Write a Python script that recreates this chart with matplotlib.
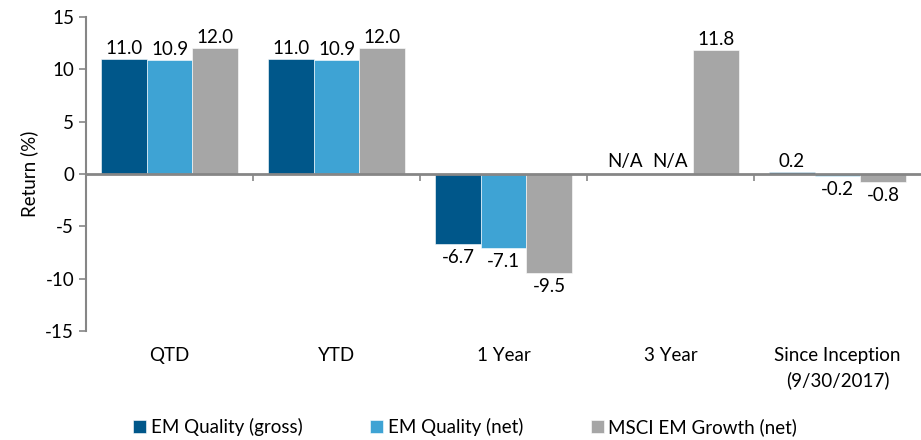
import numpy as np
import matplotlib.pyplot as plt
from matplotlib import transforms

plt.rcParams['font.family'] = ['Lato', 'DejaVu Sans']
plt.rcParams['axes.unicode_minus'] = False

# chart data
categories = ['QTD', 'YTD', '1 Year', '3 Year', 'Since Inception\n(9/30/2017)']
series_names = ['EM Quality (gross)', 'EM Quality (net)', 'MSCI EM Growth (net)']
gross = [11.0, 11.0, -6.7, np.nan, 0.2]
net = [10.9, 10.9, -7.1, np.nan, -0.2]
msci = [12.0, 12.0, -9.5, 11.8, -0.8]
colors = ['#00578a', '#3ea3d4', '#a6a6a6']

fs = 13.5
fig = plt.figure(figsize=(9.21, 4.4), dpi=100)
ax = fig.add_axes([86 / 921, 109 / 440, 835 / 921, 314 / 440])

x = np.arange(len(categories))
w = 0.273
axis_grey = '#868686'

for k, (vals, col, name) in enumerate(zip([gross, net, msci], colors, series_names)):
    pos = x + (k - 1) * w
    v = np.array(vals, dtype=float)
    ax.bar(pos, np.nan_to_num(v), width=w, color=col, label=name,
           edgecolor='white', linewidth=0.4, zorder=2)
    for xi, yi in zip(pos, v):
        if np.isnan(yi):
            ax.text(xi, 0.35, 'N/A', ha='center', va='bottom', fontsize=fs)
        elif yi >= 0:
            ax.text(xi, yi + 0.2, f'{yi:.1f}', ha='center', va='bottom', fontsize=fs)
        else:
            ax.text(xi, yi - 0.45, f'{yi:.1f}', ha='center', va='top', fontsize=fs)

ax.set_xlim(-0.5, len(categories) - 0.5)
ax.set_ylim(-15, 15)
ax.set_yticks(np.arange(-15, 16, 5))
ax.tick_params(axis='y', labelsize=fs, color=axis_grey, length=5, width=1.2)

ax.spines['top'].set_visible(False)
ax.spines['right'].set_visible(False)
ax.spines['left'].set_color(axis_grey)
ax.spines['left'].set_linewidth(1.5)
ax.spines['bottom'].set_position(('data', 0))
ax.spines['bottom'].set_color(axis_grey)
ax.spines['bottom'].set_linewidth(2)
ax.spines['bottom'].set_zorder(3)

# category boundary ticks on the zero line
ax.set_xticks(np.arange(0.5, len(categories) - 0.5, 1))
ax.set_xticklabels([])
ax.tick_params(axis='x', direction='out', length=5, width=1.2, color=axis_grey)

# category labels under the plot area
trans = transforms.blended_transform_factory(ax.transData, ax.transAxes)
for xi, lab in zip(x, categories):
    ax.text(xi, -0.05, lab, transform=trans, ha='center', va='top',
            fontsize=fs, linespacing=1.5)

ax.set_ylabel('Return (%)', fontsize=fs, labelpad=5)

fig.legend(loc='lower center', bbox_to_anchor=(0.505, -0.03), ncol=3, frameon=False,
           fontsize=fs, handlelength=0.7, handleheight=0.7, handletextpad=0.25,
           columnspacing=3.6)

fig.savefig('out.png', dpi=100)
